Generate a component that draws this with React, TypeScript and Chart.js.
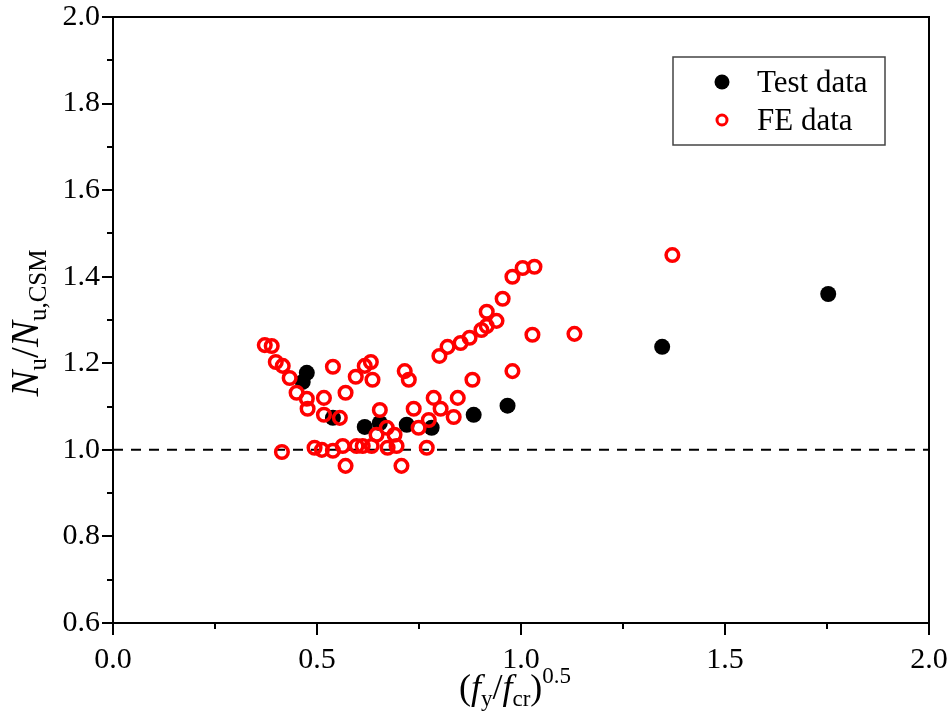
import React, { useEffect, useRef } from 'react';
import { Chart, registerables } from 'chart.js';

Chart.register(...registerables);

// Test data (filled black)
const testX = [0.465, 0.475, 0.539, 0.617, 0.654, 0.720, 0.781, 0.884, 0.967, 1.346, 1.753];
const testY = [1.157, 1.178, 1.074, 1.053, 1.062, 1.058, 1.051, 1.081, 1.102, 1.238, 1.360];

// FE data (open red)
const feX = [
  0.372, 0.389, 0.399, 0.416, 0.433, 0.450, 0.475, 0.477, 0.517, 0.517,
  0.539, 0.556, 0.570, 0.414, 0.494, 0.512, 0.539, 0.563, 0.570, 0.595,
  0.597, 0.612, 0.617, 0.632, 0.636, 0.634, 0.654, 0.646, 0.671, 0.690,
  0.673, 0.695, 0.707, 0.715, 0.725, 0.737, 0.749, 0.774, 0.769, 0.786,
  0.803, 0.835, 0.845, 0.800, 0.820, 0.852, 0.874, 0.881, 0.903, 0.916,
  0.940, 0.955, 0.979, 1.004, 1.033, 0.979, 1.028, 1.131, 1.371, 0.916,
];
const feY = [
  1.242, 1.240, 1.203, 1.194, 1.166, 1.132, 1.118, 1.095, 1.120, 1.081,
  1.192, 1.074, 1.132, 0.995, 1.005, 1.000, 0.998, 1.009, 0.963, 1.169,
  1.009, 1.009, 1.194, 1.203, 1.162, 1.009, 1.092, 1.035, 1.051, 1.035,
  1.005, 1.009, 0.963, 1.182, 1.162, 1.095, 1.051, 1.069, 1.005, 1.120,
  1.095, 1.076, 1.120, 1.217, 1.238, 1.247, 1.259, 1.162, 1.277, 1.319,
  1.298, 1.349, 1.400, 1.420, 1.423, 1.182, 1.266, 1.268, 1.450, 1.286,
];

// Reference line
const refLineX = [0, 2];
const refLineY = [1.0, 1.0];

// Axis ticks
const xMajorTicks = [0, 0.5, 1.0, 1.5, 2.0];
const xMinorTicks = [0.25, 0.75, 1.25, 1.75];
const yMajorTicks = [0.6, 0.8, 1.0, 1.2, 1.4, 1.6, 1.8, 2.0];
const yMinorTicks = [0.7, 0.9, 1.1, 1.3, 1.5, 1.7, 1.9];

const legendLabels = ['Test data', 'FE data'];

const SERIF = '"Liberation Serif", "Times New Roman", serif';

type Seg = { text: string; font: string; dy: number };

function drawRich(ctx: CanvasRenderingContext2D, segs: Seg[], cx: number, baseline: number) {
  let total = 0;
  for (const s of segs) {
    ctx.font = s.font;
    total += ctx.measureText(s.text).width;
  }
  let x = cx - total / 2;
  ctx.textAlign = 'left';
  ctx.textBaseline = 'alphabetic';
  for (const s of segs) {
    ctx.font = s.font;
    ctx.fillText(s.text, x, baseline + s.dy);
    x += ctx.measureText(s.text).width;
  }
}

const decorPlugin = {
  id: 'decor',
  afterDraw(chart: any) {
    const { ctx, chartArea: a, scales } = chart;
    const xs = scales.x;
    const ys = scales.y;
    ctx.save();
    ctx.strokeStyle = '#000';
    ctx.lineWidth = 2;
    ctx.strokeRect(a.left, a.top, a.right - a.left, a.bottom - a.top);

    ctx.beginPath();
    for (const v of yMajorTicks) {
      const p = Math.round(ys.getPixelForValue(v));
      ctx.moveTo(a.left - 11, p);
      ctx.lineTo(a.left, p);
    }
    for (const v of yMinorTicks) {
      const p = Math.round(ys.getPixelForValue(v));
      ctx.moveTo(a.left - 6, p);
      ctx.lineTo(a.left, p);
    }
    for (const v of xMajorTicks) {
      const p = Math.round(xs.getPixelForValue(v));
      ctx.moveTo(p, a.bottom);
      ctx.lineTo(p, a.bottom + 12);
    }
    for (const v of xMinorTicks) {
      const p = Math.round(xs.getPixelForValue(v));
      ctx.moveTo(p, a.bottom);
      ctx.lineTo(p, a.bottom + 6);
    }
    ctx.stroke();

    // Axis titles
    ctx.fillStyle = '#000';
    const cx = (a.left + a.right) / 2;
    drawRich(
      ctx,
      [
        { text: '(', font: `36px ${SERIF}`, dy: 0 },
        { text: 'f', font: `italic 36px ${SERIF}`, dy: 0 },
        { text: 'y', font: `23px ${SERIF}`, dy: 7 },
        { text: '/', font: `36px ${SERIF}`, dy: 0 },
        { text: 'f', font: `italic 36px ${SERIF}`, dy: 0 },
        { text: 'cr', font: `23px ${SERIF}`, dy: 7 },
        { text: ')', font: `36px ${SERIF}`, dy: 0 },
        { text: '0.5', font: `23px ${SERIF}`, dy: -16 },
      ],
      cx - 6,
      699
    );

    ctx.save();
    ctx.translate(38, (a.top + a.bottom) / 2 + 3);
    ctx.rotate(-Math.PI / 2);
    drawRich(
      ctx,
      [
        { text: 'N', font: `italic 39px ${SERIF}`, dy: 0 },
        { text: 'u', font: `25px ${SERIF}`, dy: 8 },
        { text: '/', font: `39px ${SERIF}`, dy: 0 },
        { text: 'N', font: `italic 39px ${SERIF}`, dy: 0 },
        { text: 'u,CSM', font: `25px ${SERIF}`, dy: 8 },
      ],
      0,
      0
    );
    ctx.restore();

    // Legend
    ctx.strokeStyle = '#444';
    ctx.lineWidth = 1.5;
    ctx.strokeRect(673, 57, 212, 88);
    ctx.fillStyle = '#000';
    ctx.beginPath();
    ctx.arc(722, 82, 7.5, 0, Math.PI * 2);
    ctx.fill();
    ctx.strokeStyle = '#ff0000';
    ctx.lineWidth = 3;
    ctx.beginPath();
    ctx.arc(722, 120, 5, 0, Math.PI * 2);
    ctx.stroke();
    ctx.fillStyle = '#000';
    ctx.font = `31px ${SERIF}`;
    ctx.textAlign = 'left';
    ctx.textBaseline = 'alphabetic';
    ctx.fillText(legendLabels[0], 757, 92);
    ctx.fillText(legendLabels[1], 757, 130);
    ctx.restore();
  },
};

export default function App() {
  const ref = useRef<HTMLCanvasElement | null>(null);

  useEffect(() => {
    if (!ref.current) return;
    const chart = new Chart(ref.current, {
      type: 'scatter',
      data: {
        datasets: [
          {
            label: legendLabels[0],
            data: testX.map((x, i) => ({ x, y: testY[i] })),
            backgroundColor: '#000',
            borderColor: '#000',
            borderWidth: 0,
            pointRadius: 8,
            pointHoverRadius: 8,
            order: 1,
          },
          {
            label: legendLabels[1],
            data: feX.map((x, i) => ({ x, y: feY[i] })),
            backgroundColor: 'rgba(255,255,255,0)',
            borderColor: '#ff0000',
            borderWidth: 3.5,
            pointRadius: 6.3,
            pointHoverRadius: 6.3,
            order: 0,
          },
          {
            type: 'line',
            label: 'ref',
            data: refLineX.map((x, i) => ({ x, y: refLineY[i] })),
            borderColor: '#000',
            borderWidth: 2,
            borderDash: [10, 8],
            pointRadius: 0,
            showLine: true,
            fill: false,
            order: 2,
          } as any,
        ],
      },
      options: {
        animation: false,
        responsive: false,
        maintainAspectRatio: false,
        events: [],
        layout: { padding: { top: 17, right: 21, left: 0, bottom: 0 } },
        plugins: {
          legend: { display: false },
          tooltip: { enabled: false },
          title: { display: false },
        },
        scales: {
          x: {
            type: 'linear',
            min: 0,
            max: 2,
            grid: { display: false, drawTicks: false },
            border: { display: false },
            ticks: {
              stepSize: 0.5,
              padding: 19,
              color: '#000',
              font: { family: SERIF, size: 30 },
              callback: (v: any) => Number(v).toFixed(1),
            },
            afterFit: (s: any) => {
              s.height = 93;
              s.paddingLeft = 0;
              s.paddingRight = 0;
            },
          },
          y: {
            type: 'linear',
            min: 0.6,
            max: 2.0,
            grid: { display: false, drawTicks: false },
            border: { display: false },
            ticks: {
              stepSize: 0.2,
              padding: 13,
              color: '#000',
              font: { family: SERIF, size: 30 },
              callback: (v: any) => Number(v).toFixed(1),
            },
            afterFit: (s: any) => {
              s.width = 113;
              s.paddingTop = 0;
              s.paddingBottom = 0;
            },
          },
        },
      },
      plugins: [decorPlugin],
    });
    return () => chart.destroy();
  }, []);

  return (
    <div style={{ position: 'absolute', left: 0, top: 0, width: 950, height: 716, background: '#fff' }}>
      <canvas ref={ref} width={950} height={716} style={{ width: 950, height: 716, display: 'block' }} />
    </div>
  );
}
